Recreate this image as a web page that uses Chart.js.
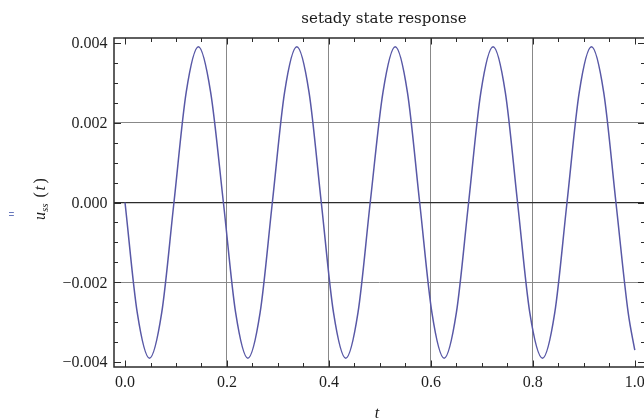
<!DOCTYPE html>
<html><head><meta charset="utf-8">
<script src="https://cdn.jsdelivr.net/npm/chart.js@4"></script>
<style>html,body{margin:0;padding:0;background:#fff;overflow:hidden;width:644px;height:419px}canvas{display:block}</style>
</head><body><canvas id="c" width="650" height="419" style="width:650px;height:419px"></canvas>
<script>
// ---- data ----
const tValues = [0, 0.024, 0.048, 0.072, 0.096, 0.120, 0.144, 0.168, 0.193, 0.217, 0.241, 0.265, 0.289, 0.313, 0.337, 0.361,
  0.385, 0.409, 0.433, 0.457, 0.481, 0.506, 0.530, 0.554, 0.578, 0.602, 0.626, 0.650, 0.674, 0.698, 0.722, 0.746,
  0.770, 0.794, 0.819, 0.843, 0.867, 0.891, 0.915, 0.939, 0.963, 0.987, 1.000];
const uValues = [0, -0.00276, -0.0039, -0.00276, 0, 0.00276, 0.0039, 0.00276, 0, -0.00276, -0.0039, -0.00276, 0, 0.00276, 0.0039, 0.00276,
  0, -0.00276, -0.0039, -0.00276, 0, 0.00276, 0.0039, 0.00276, 0, -0.00276, -0.0039, -0.00276, 0, 0.00276, 0.0039, 0.00276,
  0, -0.00276, -0.0039, -0.00276, 0, 0.00276, 0.0039, 0.00276, 0, -0.00276, -0.0037];
const xTickValues = [0, 0.2, 0.4, 0.6, 0.8, 1.0];
const xTickLabels = ["0.0", "0.2", "0.4", "0.6", "0.8", "1.0"];
const yTickValues = [-0.004, -0.002, 0, 0.002, 0.004];
const yTickLabels = ["\u22120.004", "\u22120.002", "0.000", "0.002", "0.004"];
const xMinorStep = 0.05;
const yMinorStep = 0.0005;
const titleText = "setady state response";
const xLabel = "t";

const points = tValues.map((t, i) => ({x: t, y: uValues[i]}));
const isMajor = (v, arr) => arr.some(m => Math.abs(m - v) < 1e-9);

const framePlugin = {
  id: 'frame',
  afterDraw(chart) {
    const {ctx, chartArea: a, scales: {x, y}} = chart;
    ctx.save();
    ctx.strokeStyle = '#2b2b2b';
    ctx.lineWidth = 1;
    const seg = (x1, y1, x2, y2) => { ctx.beginPath(); ctx.moveTo(x1, y1); ctx.lineTo(x2, y2); ctx.stroke(); };
    for (let i = 0; i <= 20; i++) {
      const v = i * xMinorStep;
      const len = isMajor(v, xTickValues) ? 6.5 : 4;
      const px = Math.round(x.getPixelForValue(v)) + 0.5;
      seg(px, a.bottom, px, a.bottom - len);
      seg(px, a.top, px, a.top + len);
    }
    for (let i = -8; i <= 8; i++) {
      const v = i * yMinorStep;
      const len = isMajor(v, yTickValues) ? 7 : 4;
      const py = Math.round(y.getPixelForValue(v)) + 0.5;
      seg(a.left, py, a.left + len, py);
      seg(a.right, py, a.right - len, py);
    }
    ctx.lineWidth = 1.5;
    ctx.strokeRect(a.left, a.top, a.right - a.left, a.bottom - a.top);

    // tick labels
    ctx.fillStyle = '#1e1e1e';
    ctx.font = '16px "Liberation Serif"';
    ctx.textAlign = 'center'; ctx.textBaseline = 'middle';
    xTickValues.forEach((v, i) => ctx.fillText(xTickLabels[i], x.getPixelForValue(v), 383));
    ctx.textAlign = 'right';
    yTickValues.forEach((v, i) => ctx.fillText(yTickLabels[i], 107.5, y.getPixelForValue(v) + 1));

    // title
    ctx.font = '15px "DejaVu Serif"';
    ctx.textAlign = 'center'; ctx.textBaseline = 'alphabetic';
    ctx.fillStyle = '#1a1a1a';
    ctx.fillText(titleText, 384, 23);

    // x axis label
    ctx.font = 'italic 16px "Liberation Serif"';
    ctx.fillText(xLabel, 377, 418);

    // y axis label  u_ss(t), rotated
    ctx.save();
    ctx.translate(45, 200);
    ctx.rotate(-Math.PI / 2);
    ctx.textAlign = 'left'; ctx.textBaseline = 'alphabetic';
    ctx.font = 'italic 16px "Liberation Serif"';
    ctx.fillText('u', -20, 0);
    ctx.font = 'italic 11px "Liberation Serif"';
    ctx.fillText('ss', -12, 3);
    ctx.font = '16px "Liberation Serif"';
    ctx.fillText('(', 2.5, 0);
    ctx.font = 'italic 16px "Liberation Serif"';
    ctx.fillText('t', 9.5, 0);
    ctx.font = '16px "Liberation Serif"';
    ctx.fillText(')', 16.5, 0);
    ctx.restore();

    // small stray mark at far left
    ctx.fillStyle = '#6878bc';
    ctx.font = '10px "Liberation Sans"';
    ctx.textAlign = 'center'; ctx.textBaseline = 'middle';
    ctx.fillText('=', 11.5, 215);

    ctx.restore();
  }
};

new Chart(document.getElementById('c'), {
  type: 'line',
  data: {
    datasets: [{
      data: points,
      borderColor: 'rgb(88,88,166)',
      borderWidth: 1.5,
      pointRadius: 0,
      fill: false,
      cubicInterpolationMode: 'monotone'
    }]
  },
  options: {
    responsive: false,
    animation: false,
    events: [],
    layout: {padding: {left: 0, right: 5, top: 38, bottom: 0}},
    plugins: {legend: {display: false}, title: {display: false}, tooltip: {enabled: false}},
    scales: {
      x: {
        type: 'linear', min: -0.0216, max: 1.02,
        afterBuildTicks: s => { s.ticks = xTickValues.map(v => ({value: v})); },
        afterFit: s => { s.height = 52; },
        ticks: {display: false},
        border: {display: false},
        grid: {
          drawTicks: false,
          lineWidth: 1,
          color: c => (c.tick && (Math.abs(c.tick.value) < 1e-9 || Math.abs(c.tick.value - 1) < 1e-9)) ? 'rgba(0,0,0,0)' : '#888888'
        }
      },
      y: {
        type: 'linear', min: -0.00412, max: 0.00412,
        afterBuildTicks: s => { s.ticks = yTickValues.map(v => ({value: v})); },
        afterFit: s => { s.width = 114; },
        ticks: {display: false},
        border: {display: false},
        grid: {
          drawTicks: false,
          lineWidth: c => (c.tick && Math.abs(c.tick.value) < 1e-9) ? 1.3 : 1,
          color: c => {
            if (!c.tick) return '#888888';
            const v = c.tick.value;
            if (Math.abs(Math.abs(v) - 0.004) < 1e-9) return 'rgba(0,0,0,0)';
            if (Math.abs(v) < 1e-9) return '#2b2b2b';
            return '#888888';
          }
        }
      }
    }
  },
  plugins: [framePlugin]
});
</script>
</body></html>
